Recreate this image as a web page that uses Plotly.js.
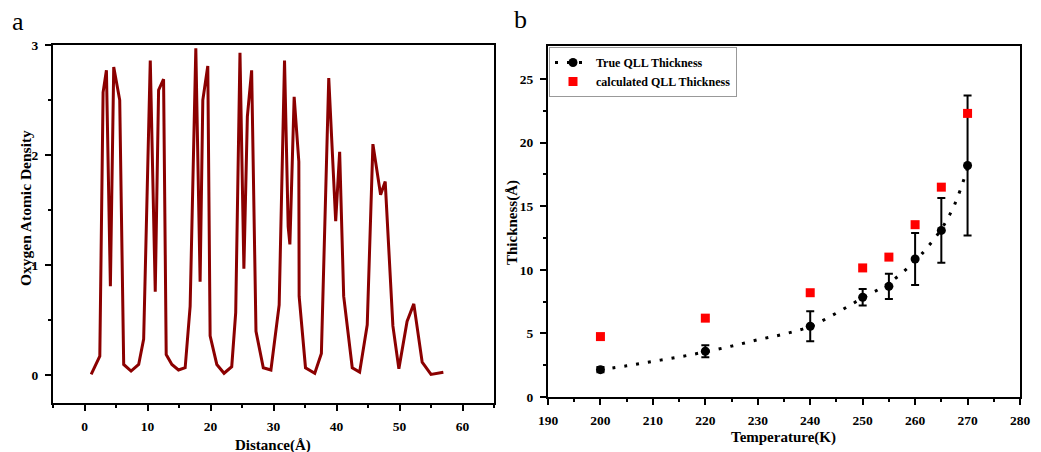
<!DOCTYPE html>
<html>
<head>
<meta charset="utf-8">
<script src="https://cdn.plot.ly/plotly-3.0.1.min.js"></script>
<style>html,body{margin:0;padding:0;background:#fff;}#chart{width:1041px;height:452px;}</style>
</head>
<body>
<div id="chart"></div>
<script>
// Panel a: oxygen atomic density profile
const distance = [1.06, 2.43, 2.95, 3.48, 4.11, 4.64, 5.59, 6.22, 7.39, 8.6, 9.39, 10.44, 11.23, 11.76, 12.55, 12.97, 13.87, 14.92, 15.98, 16.77, 17.67, 18.35, 18.78, 19.57, 19.94, 21.0, 22.15, 23.37, 24.0, 24.68, 25.3, 25.85, 26.53, 27.22, 28.38, 29.59, 30.9, 31.75, 32.33, 32.6, 33.28, 34.02, 34.07, 35.08, 36.55, 37.6, 38.77, 39.87, 40.5, 41.14, 42.5, 43.67, 44.88, 45.78, 47.0, 47.73, 48.95, 49.9, 51.2, 52.27, 53.6, 55.0, 56.96];
const density = [0.01, 0.175, 2.57, 2.77, 0.81, 2.8, 2.5, 0.1, 0.04, 0.1, 0.33, 2.86, 0.76, 2.59, 2.69, 0.19, 0.1, 0.05, 0.07, 0.63, 2.97, 0.85, 2.5, 2.81, 0.36, 0.1, 0.02, 0.08, 0.57, 2.93, 0.97, 2.35, 2.77, 0.4, 0.07, 0.05, 0.64, 2.86, 1.35, 1.19, 2.53, 1.94, 0.72, 0.07, 0.02, 0.2, 2.7, 1.4, 2.03, 0.72, 0.07, 0.03, 0.46, 2.1, 1.64, 1.76, 0.45, 0.06, 0.49, 0.65, 0.12, 0.01, 0.03];
const distanceTicks = [0, 10, 20, 30, 40, 50, 60];
const densityTicks = [0, 1, 2, 3];

// Panel b: QLL thickness
const temperature = [200, 220, 240, 250, 255, 260, 265, 270];
const trueThickness = [2.15, 3.6, 5.56, 7.84, 8.7, 10.85, 13.1, 18.2];
const trueError = [0.2, 0.47, 1.18, 0.65, 1.0, 2.05, 2.55, 5.5];
const calcThickness = [4.75, 6.2, 8.2, 10.15, 11.0, 13.55, 16.5, 22.3];
const fitTemperature = [200, 205, 210, 215, 220, 225, 230, 235, 240, 245, 250, 255, 260, 262.5, 265, 267.5, 270];
const fitThickness = [2.15, 2.45, 2.8, 3.15, 3.55, 4.0, 4.5, 4.95, 5.55, 6.6, 7.8, 8.95, 10.7, 11.85, 13.2, 15.1, 18.0];
const temperatureTicks = [190, 200, 210, 220, 230, 240, 250, 260, 270, 280];
const thicknessTicks = [0, 5, 10, 15, 20, 25];

const serif = 'Liberation Serif';
const tickFont = {family: serif, size: 13.5, color: '#000'};

const traces = [
  {x: distance, y: density, type: 'scatter', mode: 'lines', xaxis: 'x', yaxis: 'y',
   line: {color: '#8B0000', width: 3}, showlegend: false, hoverinfo: 'skip'},
  {x: fitTemperature, y: fitThickness, type: 'scatter', mode: 'lines', xaxis: 'x2', yaxis: 'y2',
   line: {color: '#000', width: 3, dash: '3px,9px', shape: 'spline'}, showlegend: false},
  {x: temperature, y: trueThickness, type: 'scatter', mode: 'markers', xaxis: 'x2', yaxis: 'y2',
   marker: {color: '#000', size: 9, symbol: 'circle'},
   error_y: {type: 'data', array: trueError, visible: true, color: '#000', thickness: 2, width: 4},
   showlegend: false},
  {x: temperature, y: calcThickness, type: 'scatter', mode: 'markers', xaxis: 'x2', yaxis: 'y2',
   marker: {color: '#FF0000', size: 9, symbol: 'square'}, showlegend: false},
  {x: [null], y: [null], type: 'scatter', mode: 'lines+markers', xaxis: 'x2', yaxis: 'y2',
   name: '<b>True QLL Thickness</b>', line: {color: '#000', width: 3, dash: '3px,9px'},
   marker: {color: '#000', size: 9, symbol: 'circle'}},
  {x: [null], y: [null], type: 'scatter', mode: 'markers', xaxis: 'x2', yaxis: 'y2',
   name: '<b>calculated QLL Thickness</b>', marker: {color: '#FF0000', size: 9, symbol: 'square'}}
];

function bold(vals) { return vals.map(v => '<b>' + v + '</b>'); }
function axis(ticks, extra) {
  return Object.assign({
    showline: true, linecolor: '#000', linewidth: 2, mirror: true,
    ticks: 'outside', ticklen: 6, tickwidth: 2, tickcolor: '#000',
    tickmode: 'array', tickvals: ticks, ticktext: bold(ticks),
    showgrid: false, zeroline: false, tickfont: tickFont, fixedrange: true,
    ticklabelstandoff: 4
  }, extra);
}
function minor(vals) {
  return {tickvals: vals, ticks: 'outside', ticklen: 3, tickwidth: 2, tickcolor: '#000'};
}
function label(text, x, y, size, angle, isBold) {
  return {text: isBold ? '<b>' + text + '</b>' : text, x: x/1041, y: 1 - y/452, xref: 'paper', yref: 'paper', showarrow: false,
    xanchor: 'center', yanchor: 'middle', textangle: angle || 0,
    font: {family: serif, size: size, color: '#000'}};
}

const layout = {
  width: 1041, height: 452,
  margin: {l: 0, r: 0, t: 0, b: 0},
  paper_bgcolor: '#fff', plot_bgcolor: '#fff',
  font: {family: serif, color: '#000'},
  xaxis: axis(distanceTicks, {domain: [53/1041, 494/1041], range: [-5, 65],
    minor: minor([-5,5,15,25,35,45,55,65]), anchor: 'y'}),
  yaxis: axis(densityTicks, {domain: [1-403/452, 1-45/452], range: [-0.25, 3],
    minor: minor([0.5,1.5,2.5]), anchor: 'x'}),
  xaxis2: axis(temperatureTicks, {domain: [548/1041, 1020/1041], range: [190, 280],
    minor: minor([195,205,215,225,235,245,255,265,275]), anchor: 'y2'}),
  yaxis2: axis(thicknessTicks, {domain: [1-397/452, 1-46/452], range: [0, 27.6],
    minor: minor([2.5,7.5,12.5,17.5,22.5]), anchor: 'x2'}),
  legend: {x: 549/1041, y: 1-47/452, xanchor: 'left', yanchor: 'top',
    bgcolor: '#fff', bordercolor: '#999', borderwidth: 1,
    font: {family: serif, size: 12, color: '#000'},
    tracegroupgap: 0, itemwidth: 36},
  annotations: [
    label('a', 18, 22, 26, 0, false),
    label('b', 520, 20, 26, 0, false),
    label('Oxygen Atomic Density', 25, 208, 15.5, -90, true),
    label('Distance(Å)', 273, 445, 15, 0, true),
    label('Thickness(Å)', 512, 223, 15, -90, true),
    label('Temperature(K)', 783, 437, 15, 0, true)
  ]
};

Plotly.newPlot('chart', traces, layout, {displayModeBar: false, staticPlot: true});
</script>
</body>
</html>
